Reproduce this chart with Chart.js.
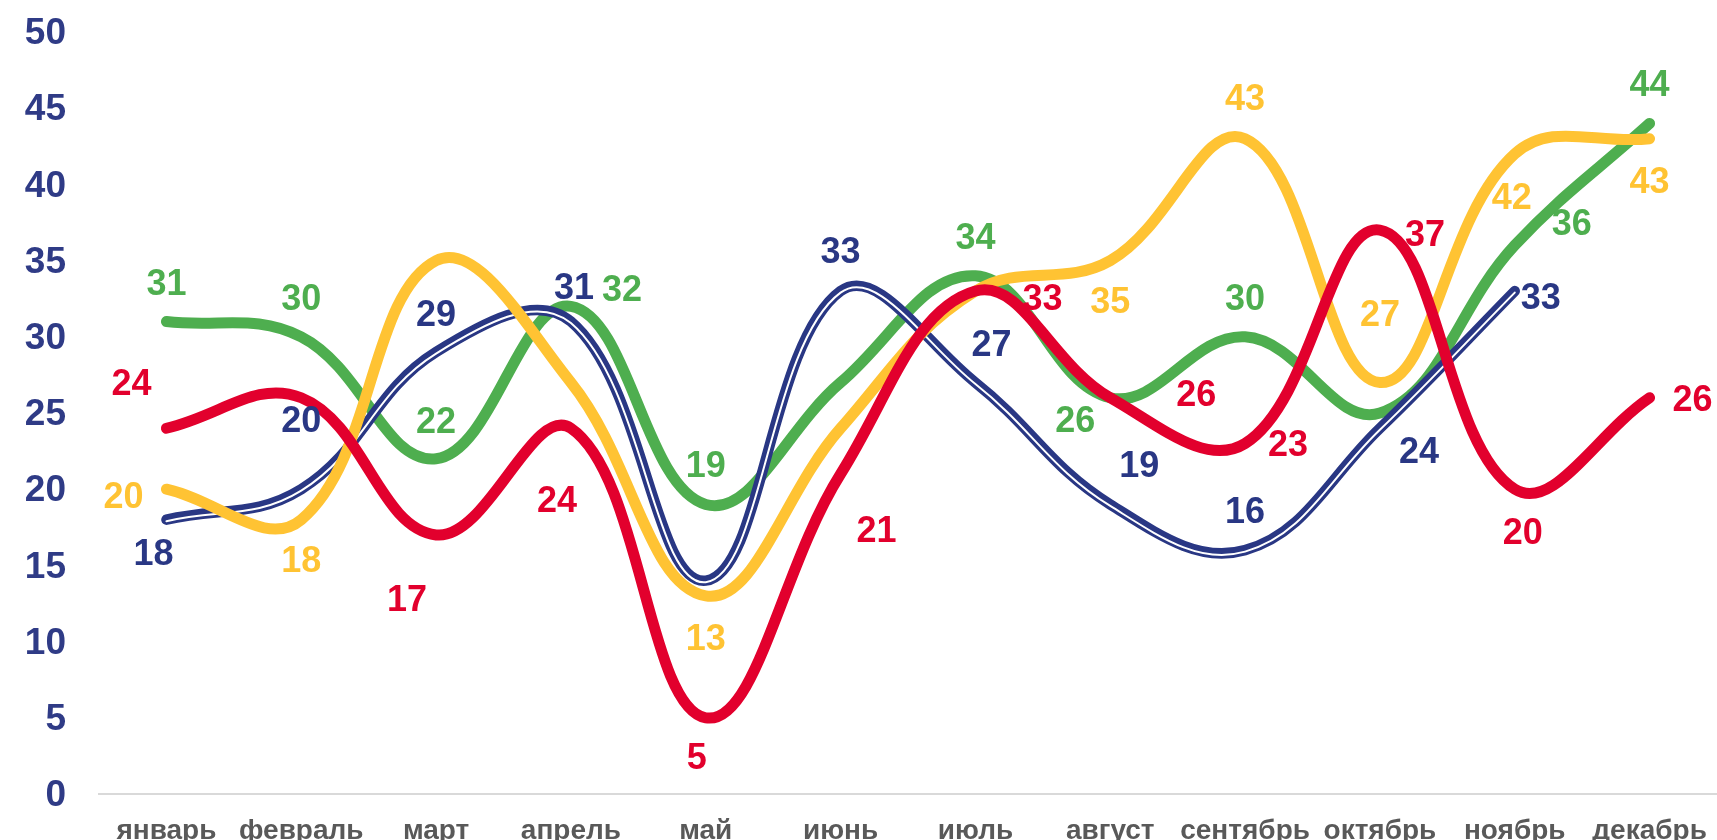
<!DOCTYPE html>
<html>
<head>
<meta charset="utf-8">
<script src="https://cdn.jsdelivr.net/npm/chart.js@4"></script>
<style>
  html, body { margin: 0; padding: 0; background: #fff; }
  #wrap { width: 1717px; height: 840px; }
</style>
</head>
<body>
<div id="wrap"><canvas id="chart" width="1717" height="840"></canvas></div>
<script>
// Data
const months = ['январь','февраль','март','апрель','май','июнь','июль','август','сентябрь','октябрь','ноябрь','декабрь'];
const greenVals  = [31, 30, 22, 32, 19, 27, 34, 26, 30, 25, 36, 44];
const yellowVals = [20, 18, 35, 27, 13, 24, 33, 35, 43, 27, 42, 43];
const redVals    = [24, 26, 17, 24, 5, 21, 33, 26, 23, 37, 20, 26];
const blueVals   = [18, 20, 29, 31, 14, 33, 27, 19, 16, 24, 33, null];
const yTicks = [0, 5, 10, 15, 20, 25, 30, 35, 40, 45, 50];

// label placement (dx, dy from the point), null = no label
const greenLbl  = [[0,-40],[0,-40],[0,-39],[51,-18],[0,-40],null,[0,-40],[-35,21],[0,-40],null,[57,-23],[0,-40]];
const yellowLbl = [[-43,6],[0,39],null,null,[0,41],null,null,[0,39],[0,-42],[0,-70],[-3,42],[0,41]];
const redLbl    = [[-35,-46],null,[-29,63],[-14,71],[-9,38],[36,55],[67,6],[86,-5],[43,0],[45,3],[8,42],[43,0]];
const blueLbl   = [[-13,32],[0,-70],[0,-39],[3,-36],null,[0,-41],[16,-40],[29,-40],[0,-40],[39,22],[26,5],null];

const GREEN = '#4EAE4F', YELLOW = '#FFC333', RED = '#E2002D', BLUE = '#293784';
const FONT = '"Liberation Sans", Arial, sans-serif';

function line(label, data, color, order, width) {
  return {
    label, data, borderColor: color, borderWidth: width, order,
    pointRadius: 0, pointHoverRadius: 0, tension: 0.4, fill: false,
    borderCapStyle: 'round', borderJoinStyle: 'round'
  };
}

const datasets = [
  line('red', redVals, RED, 1, 11),
  line('yellow', yellowVals, YELLOW, 2, 11),
  line('blueInner', blueVals, '#ffffff', 3, 2),
  line('blue', blueVals, BLUE, 4, 10.5),
  line('green', greenVals, GREEN, 5, 11)
];
datasets[0].lbl = redLbl;
datasets[1].lbl = yellowLbl;
datasets[3].lbl = blueLbl;
datasets[4].lbl = greenLbl;

// shift the white core a bit so the blue reads as a double line
const doubleLine = {
  id: 'doubleLine',
  beforeDatasetDraw(chart, args) {
    if (chart.data.datasets[args.index].label === 'blueInner') {
      chart.ctx.save();
      chart.ctx.translate(0, 1.5);
    }
  },
  afterDatasetDraw(chart, args) {
    if (chart.data.datasets[args.index].label === 'blueInner') chart.ctx.restore();
  }
};

const valueLabels = {
  id: 'valueLabels',
  afterDatasetsDraw(chart) {
    const ctx = chart.ctx;
    ctx.save();
    ctx.font = 'bold 36px ' + FONT;
    ctx.textAlign = 'center';
    ctx.textBaseline = 'alphabetic';
    chart.data.datasets.forEach((ds, di) => {
      if (!ds.lbl) return;
      const meta = chart.getDatasetMeta(di);
      ds.data.forEach((v, i) => {
        const off = ds.lbl[i];
        if (v == null || !off) return;
        const p = meta.data[i];
        ctx.fillStyle = ds.borderColor;
        // centre the digits (cap height ~0.72em) on the target point
        ctx.fillText(String(v), p.x + off[0], p.y + off[1] + 13);
      });
    });
    ctx.restore();
  }
};

new Chart(document.getElementById('chart'), {
  type: 'line',
  data: { labels: months, datasets },
  options: {
    responsive: false,
    animation: false,
    layout: { padding: { top: 32, right: 0, bottom: 0, left: 0 } },
    plugins: { legend: { display: false }, tooltip: { enabled: false } },
    scales: {
      x: {
        offset: true,
        grid: { display: false, drawTicks: false },
        border: { display: true, color: '#D9D9D9', width: 2 },
        ticks: { color: '#595959', font: { family: FONT, size: 28, weight: 'bold', lineHeight: 1 }, padding: 23, maxRotation: 0, autoSkip: false },
        afterFit: s => { s.height = 46; s.paddingLeft = 0; s.paddingRight = 0; }
      },
      y: {
        min: 0, max: 50,
        afterBuildTicks: s => { s.ticks = yTicks.map(v => ({ value: v })); },
        grid: { display: false, drawTicks: false },
        border: { display: false },
        ticks: { color: '#2F3B86', font: { family: FONT, size: 37, weight: 'bold' }, padding: 33, labelOffset: 2 },
        afterFit: s => { s.width = 99; s.paddingTop = 0; s.paddingBottom = 0; }
      }
    }
  },
  plugins: [doubleLine, valueLabels]
});
</script>
</body>
</html>
